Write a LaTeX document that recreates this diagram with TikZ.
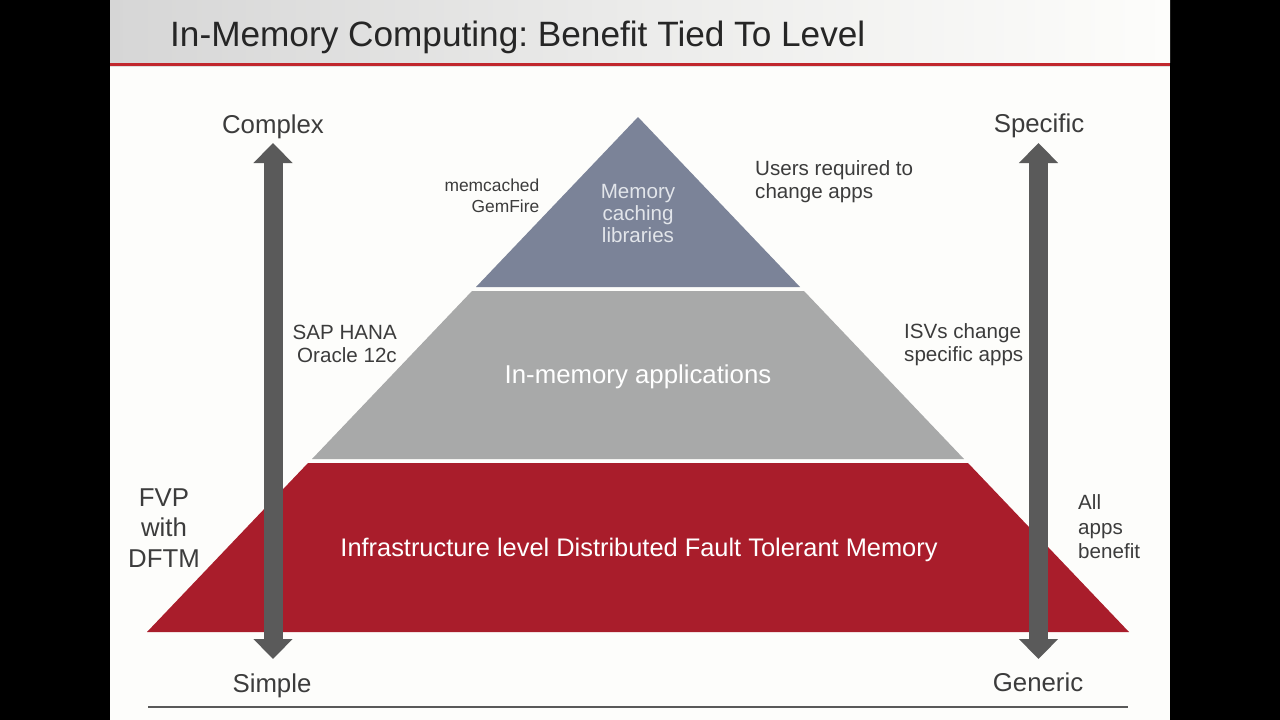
\documentclass[tikz,border=0pt]{standalone}
\usepackage{fontspec}
\setmainfont{Liberation Sans}
\usetikzlibrary{arrows.meta}
\frenchspacing
\definecolor{slidebg}{HTML}{FDFDFB}
\definecolor{hdrgray}{HTML}{D6D6D6}
\definecolor{hdrred}{HTML}{C1272D}
\definecolor{txtgray}{HTML}{3C3C3C}
\definecolor{topslate}{HTML}{7B8398}
\definecolor{midgray}{HTML}{A8A9A9}
\definecolor{botred}{HTML}{A91D2B}
\definecolor{arrowgray}{HTML}{5A5A5A}
\definecolor{lighttxt}{HTML}{E2E5EA}
\tikzset{
  lbl/.style={text=txtgray, inner sep=0pt, font=\fontsize{20.6}{23}\selectfont, align=left},
  axislbl/.style={text=txtgray, inner sep=0pt, font=\fontsize{25.8}{30}\selectfont},
  inlbl/.style={text=white, inner sep=0pt, font=\fontsize{25.8}{30}\selectfont, align=center},
  bigarrow/.style={draw=arrowgray, line width=19pt,
    {Triangle[width=38pt,length=20pt]}-{Triangle[width=38pt,length=20pt]}},
}
\begin{document}
\begin{tikzpicture}[x=1pt,y=-1pt]
\useasboundingbox (0,0) rectangle (1280,720);
\fill[black] (0,0) rectangle (1280,720);
\fill[slidebg] (110,0) rectangle (1170,720);
% header
\shade[left color=hdrgray, right color=slidebg, middle color=hdrgray!45!slidebg] (110,0) rectangle (1170,62);
\fill[hdrred] (110,62.5) rectangle (1170,65.5);
\fill[black!12] (110,65.5) rectangle (1170,67);
\node[anchor=base west, inner sep=0pt, text=black!85, font=\fontsize{35.2}{40}\selectfont] (title) at (170,46) {In-Memory Computing: Benefit Tied To Level};
% pyramid
\fill[topslate] (638,117) -- (800,287) -- (476,287) -- cycle;
\fill[midgray] (472,291) -- (804,291) -- (964,459) -- (312,459) -- cycle;
\fill[botred] (308,463) -- (968,463) -- (1129,632) -- (147,632) -- cycle;
% arrows
\coordinate (ltop) at (273,143);
\coordinate (lbot) at (273,659);
\coordinate (rtop) at (1038.5,143);
\coordinate (rbot) at (1038.5,659);
\draw[bigarrow] (ltop) -- (lbot);
\draw[bigarrow] (rtop) -- (rbot);
% axis labels
\node[axislbl, anchor=base] (complex) at (273,133) {Complex};
\node[axislbl, anchor=base] (simple) at (272,692) {Simple};
\node[axislbl, anchor=base] (specific) at (1039,132.5) {Specific};
\node[axislbl, anchor=base] (generic) at (1038,691.5) {Generic};
% inner labels
\node[text=lighttxt, inner sep=0pt, font=\fontsize{20.6}{22}\selectfont, align=center] (mcl) at (638,214) {Memory\\caching\\libraries};
\node[inlbl] (ima) at (638,377) {In-memory applications};
\node[inlbl, font=\fontsize{25.4}{30}\selectfont] (infra) at (639,550) {Infrastructure level Distributed Fault Tolerant Memory};
% side labels
\node[lbl, anchor=east, align=right, font=\fontsize{17.4}{21}\selectfont] (memc) at (539.5,196) {memcached\\GemFire};
\node[lbl, anchor=west] (users) at (755,182) {Users required to\\change apps};
\node[lbl, anchor=east, align=right] (sap) at (397,344) {SAP HANA\\Oracle 12c};
\node[lbl, anchor=west] (isv) at (904,345) {ISVs change\\specific apps};
\node[axislbl, align=center, font=\fontsize{25.8}{30.5}\selectfont] (fvp) at (164,528) {FVP\\with\\DFTM};
\node[lbl, anchor=west, font=\fontsize{20.6}{24.5}\selectfont] (allapps) at (1078,527) {All\\apps\\benefit};
% bottom line
\draw[black!65, line width=1.3pt] (148,707) -- (1128,707);
\end{tikzpicture}
\end{document}
